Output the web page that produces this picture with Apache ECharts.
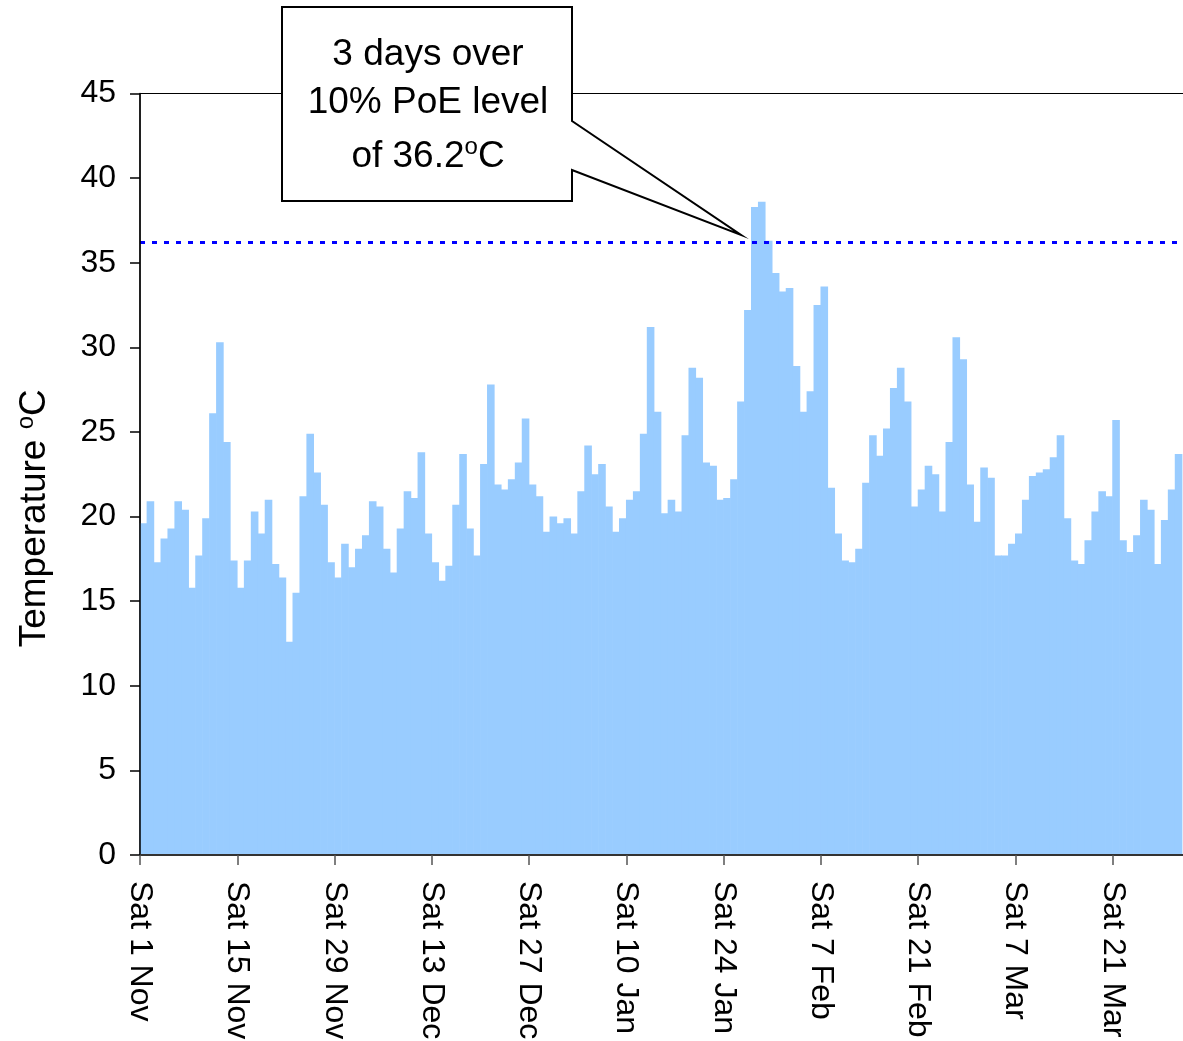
<!DOCTYPE html>
<html>
<head>
<meta charset="utf-8">
<title>Daily maximum temperature, Nov–Mar</title>
<script src="https://cdn.jsdelivr.net/npm/echarts@6.0.0/dist/echarts.min.js"></script>
<style>
  html, body { margin: 0; padding: 0; background: #fff; }
  #chart { width: 1183px; height: 1041px; }
</style>
</head>
<body>
<div id="chart"></div>
<script>
// Daily maximum temperature (°C), one value per day starting Sat 1 Nov
const dailyMax = [
  19.6, 20.9, 17.3, 18.7, 19.3, 20.9, 20.4, 15.8, 17.7, 19.9,
  26.1, 30.3, 24.4, 17.4, 15.8, 17.4, 20.3, 19.0, 21.0, 17.2,
  16.4, 12.6, 15.5, 21.2, 24.9, 22.6, 20.7, 17.3, 16.4, 18.4,
  17.0, 18.1, 18.9, 20.9, 20.6, 18.1, 16.7, 19.3, 21.5, 21.1,
  23.8, 19.0, 17.3, 16.2, 17.1, 20.7, 23.7, 19.3, 17.7, 23.1,
  27.8, 21.9, 21.6, 22.2, 23.2, 25.8, 21.9, 21.2, 19.1, 20.0,
  19.6, 19.9, 19.0, 21.5, 24.2, 22.5, 23.1, 20.6, 19.1, 19.9,
  21.0, 21.5, 24.9, 31.2, 26.2, 20.2, 21.0, 20.3, 24.8, 28.8,
  28.2, 23.2, 23.0, 21.0, 21.1, 22.2, 26.8, 32.2, 38.3, 38.6,
  36.3, 34.4, 33.3, 33.5, 28.9, 26.2, 27.4, 32.5, 33.6, 21.7,
  19.0, 17.4, 17.3, 18.1, 22.0, 24.8, 23.6, 25.2, 27.6, 28.8,
  26.8, 20.6, 21.6, 23.0, 22.5, 20.3, 24.4, 30.6, 29.3, 21.9,
  19.7, 22.9, 22.3, 17.7, 17.7, 18.4, 19.0, 21.0, 22.4, 22.6,
  22.8, 23.5, 24.8, 19.9, 17.4, 17.2, 18.6, 20.3, 21.5, 21.2,
  25.7, 18.6, 17.9, 18.9, 21.0, 20.4, 17.2, 19.8, 21.6, 23.7
];

// Fortnightly tick labels (every 14 days from the first day)
const tickLabels = [
  'Sat 1 Nov', 'Sat 15 Nov', 'Sat 29 Nov', 'Sat 13 Dec', 'Sat 27 Dec',
  'Sat 10 Jan', 'Sat 24 Jan', 'Sat 7 Feb', 'Sat 21 Feb', 'Sat 7 Mar', 'Sat 21 Mar'
];

// 10% probability-of-exceedance level
const poeLevel = 36.2;
const seasonDays = 151;   // 1 Nov to 31 Mar
const tickStep = 14;

const FONT = '"Liberation Sans", Arial, Helvetica, sans-serif';

// Each day drawn as a full-width column centred on its day slot
const barData = dailyMax.map((v, i) => [i + 0.5, v]);

const chart = echarts.init(document.getElementById('chart'), null, { renderer: 'canvas' });

chart.setOption({
  animation: false,
  backgroundColor: '#ffffff',
  textStyle: { fontFamily: FONT },
  grid: {
    left: 140, top: 93.5, right: -6, bottom: 186,
    show: true, borderColor: '#000000', borderWidth: 1,
    backgroundColor: 'transparent',
    containLabel: false, outerBoundsMode: 'none'
  },
  xAxis: {
    type: 'value',
    min: 0, max: seasonDays, interval: tickStep,
    z: 10,
    axisLine: { show: true, lineStyle: { color: '#333333', width: 2 } },
    axisTick: { show: true, inside: false, length: 10, lineStyle: { color: '#555555', width: 1.5 } },
    splitLine: { show: false },
    axisLabel: {
      rotate: -90, margin: 26,
      fontFamily: FONT, fontSize: 32, color: '#000000',
      showMaxLabel: false,
      formatter: (val) => (val % tickStep === 0 && tickLabels[val / tickStep]) ? tickLabels[val / tickStep] : ''
    }
  },
  yAxis: {
    type: 'value',
    min: 0, max: 45, interval: 5,
    z: 10,
    axisLine: { show: true, lineStyle: { color: '#000000', width: 1.5 } },
    axisTick: { show: true, inside: false, length: 10, lineStyle: { color: '#000000', width: 1.5 } },
    splitLine: { show: false },
    axisLabel: { margin: 24, fontFamily: FONT, fontSize: 32, color: '#000000' },
    name: '{t|Temperature }{s|o}{t|C}',
    nameLocation: 'middle',
    nameRotate: 90,
    nameGap: 84,
    nameTextStyle: {
      padding: [0, 88, 0, 0],
      rich: {
        t: { fontFamily: FONT, fontSize: 37, color: '#000000', lineHeight: 42 },
        s: { fontFamily: FONT, fontSize: 24, color: '#000000', verticalAlign: 'top', lineHeight: 42, padding: [0, 0, 15, 0] }
      }
    }
  },
  series: [{
    type: 'bar',
    data: barData,
    barWidth: 7.6,
    barGap: '-100%',
    itemStyle: { color: '#99ccff', borderWidth: 0 },
    emphasis: { disabled: true },
    markLine: {
      silent: true,
      symbol: 'none',
      label: { show: false },
      lineStyle: { color: '#0000ff', width: 3, type: [5, 7] },
      data: [{ yAxis: poeLevel }]
    }
  }],
  graphic: [
    {
      type: 'polygon',
      z: 100,
      shape: {
        points: [[282, 7], [572, 7], [572, 121], [741, 235], [572, 170], [572, 201], [282, 201]]
      },
      style: { fill: '#ffffff', stroke: '#000000', lineWidth: 2, lineJoin: 'miter' }
    },
    {
      type: 'text', z: 101, x: 428, y: 55,
      style: { text: '3 days over', font: '37px ' + FONT, fill: '#000000', textAlign: 'center', textVerticalAlign: 'middle' }
    },
    {
      type: 'text', z: 101, x: 428, y: 103,
      style: { text: '10% PoE level', font: '37px ' + FONT, fill: '#000000', textAlign: 'center', textVerticalAlign: 'middle' }
    },
    {
      type: 'text', z: 101, x: 428, y: 157,
      style: {
        text: '{t|of ' + poeLevel + '}{s|o}{t|C}',
        textAlign: 'center', textVerticalAlign: 'middle',
        rich: {
          t: { fontFamily: FONT, fontSize: 37, fill: '#000000', lineHeight: 44 },
          s: { fontFamily: FONT, fontSize: 24, fill: '#000000', verticalAlign: 'top', lineHeight: 44, padding: [0, 0, 14, 0] }
        }
      }
    }
  ]
});
</script>
</body>
</html>
